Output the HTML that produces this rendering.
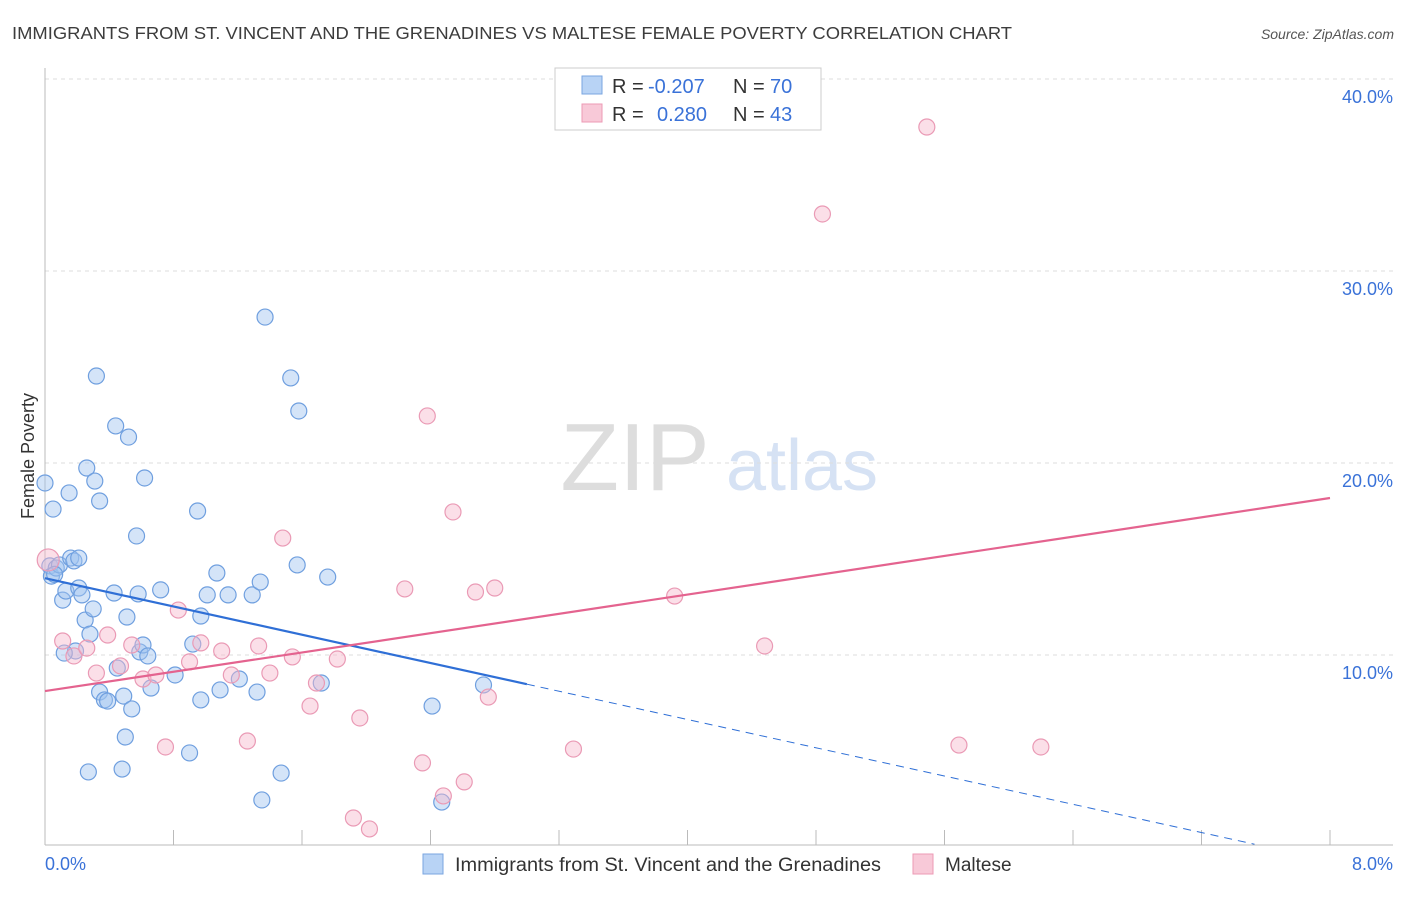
<!DOCTYPE html>
<html><head><meta charset="utf-8"><style>
body{margin:0;background:#fff;font-family:"Liberation Sans",sans-serif;}
svg text{font-family:"Liberation Sans",sans-serif;}
</style></head><body>
<svg id="chart" width="1406" height="892" viewBox="0 0 1406 892" xmlns="http://www.w3.org/2000/svg">
<text x="12" y="39" font-size="17.5" fill="#3c3c3c" textLength="1000" lengthAdjust="spacingAndGlyphs">IMMIGRANTS FROM ST. VINCENT AND THE GRENADINES VS MALTESE FEMALE POVERTY CORRELATION CHART</text>
<text x="1394" y="39" font-size="14" fill="#555" text-anchor="end" font-style="italic">Source: ZipAtlas.com</text>
<g>
<text x="635" y="490" font-size="96" fill="#ddd" font-family="Liberation Serif, serif" text-anchor="middle">ZIP</text>
<text x="802" y="490" font-size="72" fill="#d6e2f4" text-anchor="middle">atlas</text>
</g>
<g id="grid"></g>
<g id="axes"></g>
<g id="marks"></g>
<g>
<rect x="555" y="68" width="266" height="62" fill="#fff" stroke="#ccc"/>
<rect x="582" y="76" width="20" height="18" fill="#b8d3f5" stroke="#7aa6e0"/>
<text x="612" y="93" font-size="20" fill="#333">R =</text>
<text x="648" y="93" font-size="20" fill="#3a72d8">-0.207</text>
<text x="733" y="93" font-size="20" fill="#333">N =</text>
<text x="770" y="93" font-size="20" fill="#3a72d8">70</text>
<rect x="582" y="104" width="20" height="18" fill="#f8c9d8" stroke="#ec9ab5"/>
<text x="612" y="121" font-size="20" fill="#333">R =</text>
<text x="657" y="121" font-size="20" fill="#3a72d8">0.280</text>
<text x="733" y="121" font-size="20" fill="#333">N =</text>
<text x="770" y="121" font-size="20" fill="#3a72d8">43</text>
</g>
<text transform="translate(34,456) rotate(-90)" font-size="18" fill="#333" text-anchor="middle">Female Poverty</text>
<text x="45" y="870" font-size="18" fill="#3a72d8">0.0%</text>
<text x="1393" y="870" font-size="18" fill="#3a72d8" text-anchor="end">8.0%</text>
<g>
<rect x="423" y="854" width="20" height="20" fill="#b8d3f5" stroke="#7aa6e0"/>
<text x="455" y="871" font-size="19" fill="#333" textLength="426" lengthAdjust="spacingAndGlyphs">Immigrants from St. Vincent and the Grenadines</text>
<rect x="913" y="854" width="20" height="20" fill="#f8c9d8" stroke="#ec9ab5"/>
<text x="945" y="871" font-size="19" fill="#333">Maltese</text>
</g>
</svg>
<script>
const yTicks=[10,20,30,40];
const yTickLabels=["10.0%","20.0%","30.0%","40.0%"];
const blueX=[0.00,0.05,0.03,0.04,0.07,0.09,0.11,0.13,0.15,0.16,0.18,0.21,0.19,0.21,0.23,0.26,0.25,0.28,0.30,0.31,0.32,0.34,0.34,0.37,0.39,0.27,0.44,0.43,0.45,0.48,0.49,0.50,0.51,0.52,0.54,0.57,0.58,0.59,0.61,0.62,0.64,0.66,0.72,0.81,0.90,0.92,0.95,0.97,0.97,1.01,1.07,1.09,1.14,1.21,1.29,1.32,1.34,1.35,1.37,1.47,1.53,1.57,1.58,1.72,1.76,2.41,2.47,2.73,0.12,0.06];
const blueY=[18.96,17.60,14.64,14.11,14.53,14.69,12.86,13.33,18.44,15.05,14.9,15.05,10.21,13.49,13.13,19.74,11.82,11.09,12.40,19.06,24.53,18.02,8.07,7.66,7.60,3.91,21.93,13.23,9.32,4.06,7.86,5.73,11.98,21.35,7.19,16.20,13.18,10.16,10.52,19.22,9.95,8.28,13.39,8.96,4.90,10.57,17.50,12.03,7.66,13.13,14.27,8.18,13.13,8.75,13.13,8.07,13.80,2.45,27.60,3.85,24.43,14.69,22.71,8.54,14.06,7.34,2.34,8.44,10.1,14.2];
const pinkX=[0.02,0.11,0.18,0.26,0.32,0.39,0.47,0.54,0.61,0.69,0.75,0.83,0.90,0.97,1.10,1.16,1.26,1.33,1.40,1.48,1.54,1.65,1.69,1.82,1.92,1.96,2.02,2.24,2.35,2.38,2.48,2.54,2.61,2.68,2.76,2.80,3.29,3.92,4.48,4.84,5.49,5.69,6.20];
const pinkY=[14.95,10.73,9.95,10.36,9.06,11.04,9.43,10.52,8.75,8.96,5.21,12.34,9.64,10.63,10.21,8.96,5.52,10.47,9.06,16.09,9.90,7.34,8.54,9.79,1.51,6.72,0.94,13.44,4.38,22.45,2.66,17.45,3.39,13.28,7.81,13.49,5.10,13.07,10.47,32.97,37.50,5.31,5.21];
const blueTrend=[14.0,-1.84];
const pinkTrend=[8.12,1.257];
const NS="http://www.w3.org/2000/svg";
const X0=45,X1=1330,Y0=847,PX_PER_Y=19.2;
const sx=v=>X0+v/8*(X1-X0);
const sy=v=>Y0-v*PX_PER_Y;
function mk(tag,attrs,parent){const e=document.createElementNS(NS,tag);for(const k in attrs)e.setAttribute(k,attrs[k]);parent.appendChild(e);return e;}
const grid=document.getElementById('grid'),axes=document.getElementById('axes'),marks=document.getElementById('marks');
yTicks.forEach((t,i)=>{
 const l=mk('line',{x1:45,x2:1393,y1:sy(t),y2:sy(t),stroke:'#ddd','stroke-dasharray':'4,4'},grid);
 
 
 const tx=mk('text',{x:1393,y:sy(t)+24,'font-size':18,fill:'#3a72d8','text-anchor':'end'},grid);
 tx.textContent=yTickLabels[i];
 
 
});
let a=mk('line',{x1:45,x2:45,y1:68,y2:845,stroke:'#bbb'},axes);


a=mk('line',{x1:45,x2:1393,y1:845,y2:845,stroke:'#bbb'},axes);


for(let i=1;i<=10;i++){const x=45+i*128.5;const t=mk('line',{x1:x,x2:x,y1:830,y2:845,stroke:'#bbb'},axes);
 
 }
blueX.forEach((x,i)=>{const c=mk('circle',{cx:sx(x),cy:sy(blueY[i]),r:8,fill:'rgba(160,196,240,0.45)',stroke:'#6f9fdf','stroke-width':1.2},marks);
 
 });
pinkX.forEach((x,i)=>{const c=mk('circle',{cx:sx(x),cy:sy(pinkY[i]),r:i===0?11:8,fill:'rgba(246,185,205,0.45)',stroke:'#ea9ab5','stroke-width':1.2},marks);
 
 });
let tl=mk('line',{x1:sx(0),y1:sy(blueTrend[0]),x2:sx(3.0),y2:sy(blueTrend[0]+blueTrend[1]*3.0),stroke:'#2f6fd6','stroke-width':2.2},marks);


tl=mk('line',{x1:sx(3.0),y1:sy(blueTrend[0]+blueTrend[1]*3.0),x2:sx(7.53),y2:sy(blueTrend[0]+blueTrend[1]*7.53),stroke:'#2f6fd6','stroke-width':1,'stroke-dasharray':'8,6'},marks);


tl=mk('line',{x1:sx(0),y1:sy(pinkTrend[0]),x2:sx(8),y2:sy(pinkTrend[0]+pinkTrend[1]*8),stroke:'#e4638f','stroke-width':2.2},marks);


</script>
</body></html>
